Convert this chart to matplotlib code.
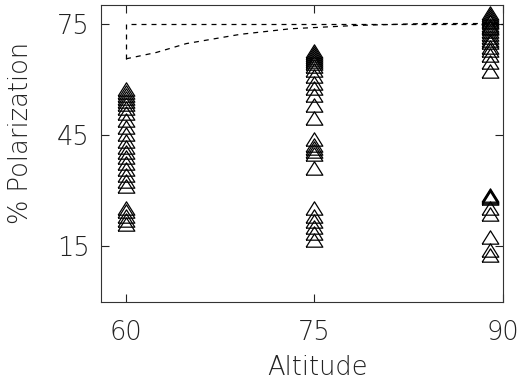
import matplotlib
matplotlib.use("Agg")
import matplotlib.pyplot as plt

# polarization samples per altitude bin
alt_60 = [57.3, 56.5, 55.7, 54.9, 54.1, 53.3, 52.2, 50.9, 49.0, 47.1, 45.3,
          43.4, 41.8, 40.4, 39.1, 37.5, 35.9, 34.3, 32.7, 31.3,
          25.4, 24.4, 23.3, 22.2, 20.9]
alt_75 = [67.5, 67.0, 66.4, 65.9, 65.4, 64.8, 64.3, 63.5, 62.4, 60.8, 58.9,
          57.6, 55.7, 53.0, 49.6, 43.9, 42.3, 41.5, 40.7, 39.9, 36.2,
          25.4, 23.3, 21.7, 20.1, 18.5, 16.6]
alt_89 = [77.9, 77.4, 76.9, 76.3, 75.8, 75.3, 74.7, 74.2, 73.7, 73.1, 72.3,
          71.5, 70.7, 69.9, 68.8, 67.8, 66.4, 64.6, 62.1,
          28.9, 28.6, 28.3, 28.0, 25.2, 23.8, 17.4, 13.9, 12.6]

# model envelope
env_x = [60, 60, 90]
env_y = [65.5, 75, 75]
curve_x = [60, 62.4, 64.8, 69.1, 73.1, 78.4, 83.7, 90]
curve_y = [65.5, 67.2, 69.6, 72.1, 73.6, 74.5, 75.0, 75.0]

xticks = [60, 75, 90]
yticks = [15, 45, 75]

fig = plt.figure(figsize=(5.2, 3.84), dpi=100)
ax = fig.add_axes([0.194, 0.2135, 0.773, 0.7735])

tri = [(-1, -0.8), (1, -0.8), (0, 0.8), (-1, -0.8)]
for x, vals in [(60, alt_60), (75, alt_75), (89, alt_89)]:
    ax.plot([x] * len(vals), vals, linestyle="none", marker=tri,
            markersize=12, markerfacecolor="none", markeredgecolor="black",
            markeredgewidth=0.9)

ax.plot(env_x, env_y, color="black", linestyle=(0, (4, 4)), linewidth=0.9)
ax.plot(curve_x, curve_y, color="black", linestyle=(0, (4, 4)), linewidth=0.9)

ax.set_xlim(58, 90)
ax.set_ylim(0, 80)
ax.set_xticks(xticks)
ax.set_yticks(yticks)
ax.tick_params(direction="in", length=6, width=0.8, top=True, right=True,
               labelsize=18.5, pad=8, colors="#222222")
ax.tick_params(axis="x", pad=13)
for s in ax.spines.values():
    s.set_linewidth(0.8)
    s.set_color("#333333")

for lab in ax.get_xticklabels() + ax.get_yticklabels():
    lab.set_fontweight("light")

ax.set_xlabel("Altitude", fontsize=18.5, fontweight="light", color="#222222")
ax.set_ylabel("% Polarization", fontsize=18.5, fontweight="light", color="#222222")
ax.xaxis.set_label_coords(0.54, -0.18)
ax.yaxis.set_label_coords(-0.17, 0.57)

fig.savefig("out.png", dpi=100)
